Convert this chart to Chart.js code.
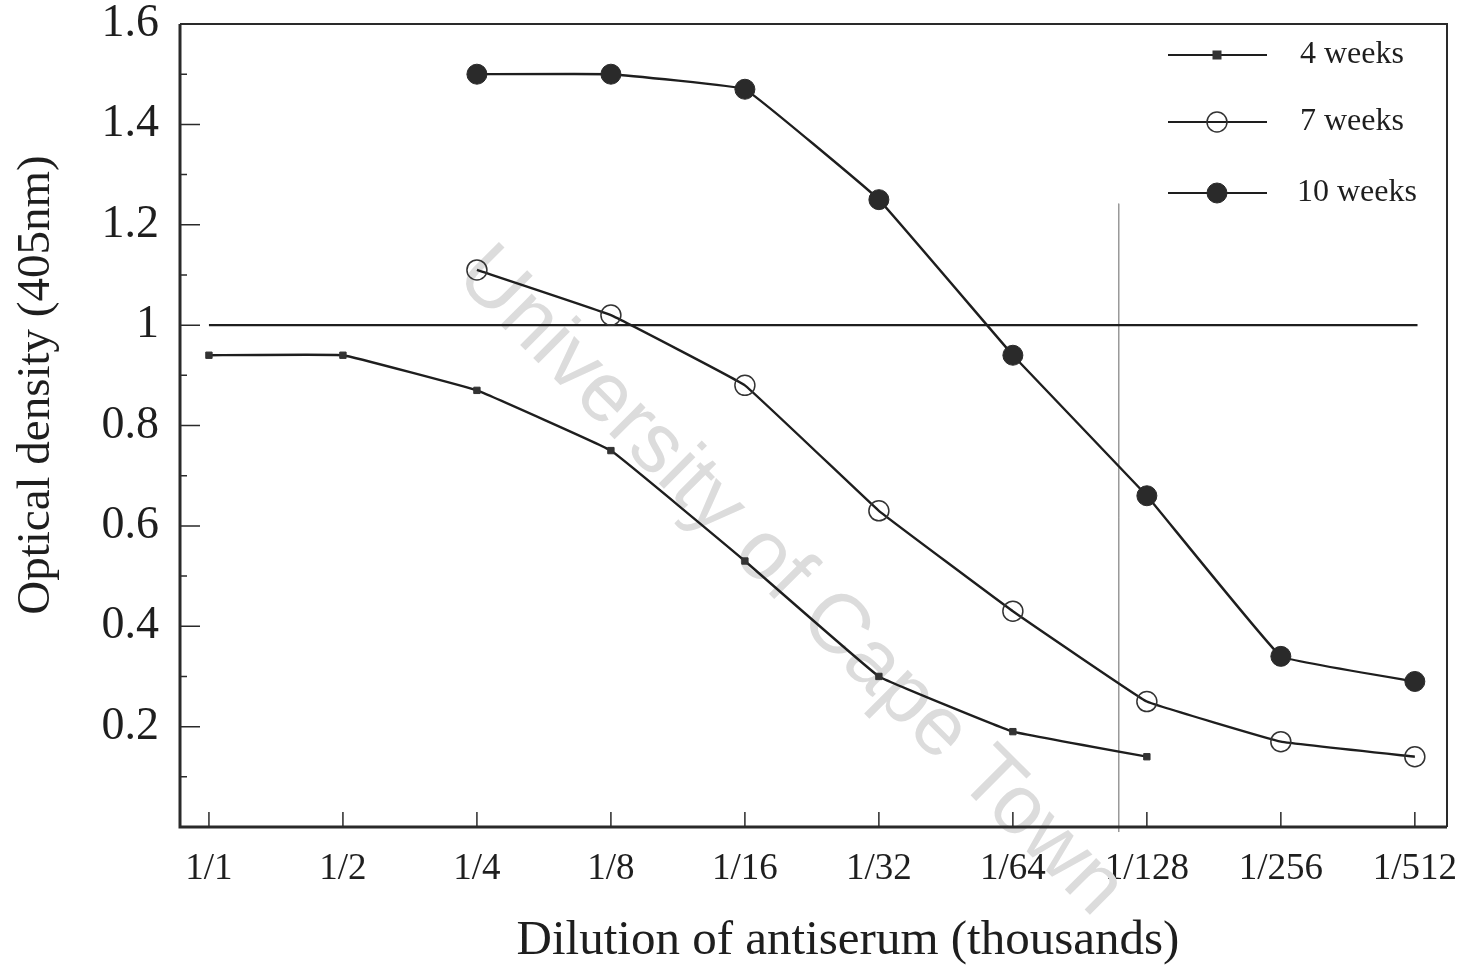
<!DOCTYPE html>
<html>
<head>
<meta charset="utf-8">
<script src="https://cdn.jsdelivr.net/npm/chart.js@4"></script>
<style>
  html, body { margin: 0; padding: 0; background: #fff; }
  canvas { display: block; }
</style>
</head>
<body>
<canvas id="odChart" width="1465" height="969"></canvas>
<script>
// dilution categories (thousands)
const dilutions = ["1/1", "1/2", "1/4", "1/8", "1/16", "1/32", "1/64", "1/128", "1/256", "1/512"];

// optical density readings, null where no reading
const weeks4 = [0.94, 0.94, 0.87, 0.75, 0.53, 0.30, 0.19, 0.14, null, null];
const weeks7 = [null, null, 1.11, 1.02, 0.88, 0.63, 0.43, 0.25, 0.17, 0.14];
const weeks10 = [null, null, 1.50, 1.50, 1.47, 1.25, 0.94, 0.66, 0.34, 0.29];

// cut-off line at OD 1.0 and the stray vertical mark
const cutoffX = [0, 9.02];
const cutoffY = [1, 1];
const markX = [6.79, 6.79];
const markY = [1.242, -0.01];

const yMajorTicks = [0.2, 0.4, 0.6, 0.8, 1.0, 1.2, 1.4];
const yMinorTicks = [0.1, 0.3, 0.5, 0.7, 0.9, 1.1, 1.3, 1.5];

const yTitle = "Optical density (405nm)";
const xTitle = "Dilution of antiserum (thousands)";

const serif = "'Liberation Serif', 'DejaVu Serif', serif";
const ink = "#1e1e1e";

function toPoints(values) {
    const pts = [];
    values.forEach((v, i) => {
        if (v !== null) pts.push({ x: i, y: v });
    });
    return pts;
}

function pairPoints(xs, ys) {
    return xs.map((x, i) => ({ x: x, y: ys[i] }));
}

const watermark = {
    id: "watermark",
    beforeDatasetsDraw(chart) {
        const ctx = chart.ctx;
        ctx.save();
        ctx.translate(790, 582);
        ctx.rotate(Math.PI / 4);
        ctx.font = "84px 'Liberation Sans', Arial, sans-serif";
        ctx.fillStyle = "#dcdcdc";
        ctx.textAlign = "center";
        ctx.textBaseline = "middle";
        ctx.fillText("University of Cape Town", 0, 0);
        ctx.restore();
    }
};

const frameAndTicks = {
    id: "frameAndTicks",
    afterDraw(chart) {
        const ctx = chart.ctx;
        const area = chart.chartArea;
        const xs = chart.scales.x;
        const ys = chart.scales.y;
        ctx.save();
        ctx.strokeStyle = "#2a2a2a";

        // frame
        ctx.lineWidth = 2;
        ctx.beginPath();
        ctx.moveTo(area.left, area.top);
        ctx.lineTo(area.right, area.top);
        ctx.lineTo(area.right, area.bottom);
        ctx.stroke();
        ctx.lineWidth = 3;
        ctx.beginPath();
        ctx.moveTo(area.left, area.top);
        ctx.lineTo(area.left, area.bottom);
        ctx.lineTo(area.right, area.bottom);
        ctx.stroke();

        // inward tick marks
        ctx.lineWidth = 1.5;
        ctx.beginPath();
        dilutions.forEach((d, i) => {
            const px = xs.getPixelForValue(i);
            ctx.moveTo(px, area.bottom);
            ctx.lineTo(px, area.bottom - 15);
        });
        yMajorTicks.forEach(v => {
            const py = ys.getPixelForValue(v);
            ctx.moveTo(area.left, py);
            ctx.lineTo(area.left + 20, py);
        });
        yMinorTicks.forEach(v => {
            const py = ys.getPixelForValue(v);
            ctx.moveTo(area.left, py);
            ctx.lineTo(area.left + 7, py);
        });
        ctx.stroke();

        // axis titles, both a bit off the plot centre like the original
        ctx.fillStyle = ink;
        ctx.textAlign = "center";
        ctx.textBaseline = "middle";
        ctx.font = "49px " + serif;
        ctx.fillText(xTitle, 848, 941);

        ctx.translate(37, 385);
        ctx.rotate(-Math.PI / 2);
        ctx.font = "47px " + serif;
        ctx.fillText(yTitle, 0, 0);
        ctx.restore();
    }
};

const customLegend = {
    id: "customLegend",
    afterDraw(chart) {
        const ctx = chart.ctx;
        const rows = [
            { label: "4 weeks", y: 55, ds: chart.data.datasets[0] },
            { label: "7 weeks", y: 122, ds: chart.data.datasets[1] },
            { label: "10 weeks", y: 193, ds: chart.data.datasets[2] }
        ];
        ctx.save();
        rows.forEach(row => {
            ctx.strokeStyle = ink;
            ctx.lineWidth = 2;
            ctx.beginPath();
            ctx.moveTo(1168, row.y);
            ctx.lineTo(1267, row.y);
            ctx.stroke();
            ctx.fillStyle = row.ds.pointBackgroundColor;
            ctx.strokeStyle = row.ds.pointBorderColor;
            ctx.lineWidth = row.ds.pointBorderWidth;
            const r = row.ds.pointRadius;
            if (row.ds.pointStyle === "rect") {
                ctx.fillRect(1217 - r, row.y - r, 2 * r, 2 * r);
            } else {
                ctx.beginPath();
                ctx.arc(1217, row.y, r, 0, Math.PI * 2);
                ctx.fill();
                ctx.stroke();
            }
            ctx.fillStyle = ink;
            ctx.font = "32px " + serif;
            ctx.textAlign = "left";
            ctx.textBaseline = "middle";
            ctx.fillText(row.label, row.label === "10 weeks" ? 1297 : 1300, row.y);
        });
        ctx.restore();
    }
};

const ctx = document.getElementById("odChart").getContext("2d");

new Chart(ctx, {
    type: "line",
    data: {
        datasets: [
            {
                label: "4 weeks",
                data: toPoints(weeks4),
                borderColor: ink,
                borderWidth: 2.4,
                tension: 0.06,
                pointStyle: "rect",
                pointRadius: 4.5,
                pointBackgroundColor: "#333",
                pointBorderColor: "#333",
                pointBorderWidth: 1
            },
            {
                label: "7 weeks",
                data: toPoints(weeks7),
                borderColor: ink,
                borderWidth: 2.4,
                tension: 0.06,
                pointStyle: "circle",
                pointRadius: 10,
                pointBackgroundColor: "rgba(255,255,255,0)",
                pointBorderColor: "#333",
                pointBorderWidth: 1.5
            },
            {
                label: "10 weeks",
                data: toPoints(weeks10),
                borderColor: ink,
                borderWidth: 2.4,
                tension: 0.06,
                pointStyle: "circle",
                pointRadius: 10,
                pointBackgroundColor: "#2a2a2a",
                pointBorderColor: "#2a2a2a",
                pointBorderWidth: 1
            },
            {
                label: "cutoff",
                data: pairPoints(cutoffX, cutoffY),
                borderColor: ink,
                borderWidth: 2.2,
                pointRadius: 0
            },
            {
                label: "mark",
                data: pairPoints(markX, markY),
                borderColor: "#9a9a9a",
                borderWidth: 1,
                pointRadius: 0,
                clip: false
            }
        ]
    },
    options: {
        responsive: false,
        animation: false,
        layout: {
            padding: { top: 24, right: 18, left: 0, bottom: 0 }
        },
        scales: {
            x: {
                type: "linear",
                min: -0.216,
                max: 9.24,
                grid: { display: false, drawTicks: false },
                border: { display: false },
                afterBuildTicks: scale => {
                    scale.ticks = dilutions.map((d, i) => ({ value: i }));
                },
                afterFit: scale => {
                    scale.height = 142;
                    scale.paddingLeft = 0;
                    scale.paddingRight = 0;
                },
                ticks: {
                    autoSkip: false,
                    maxRotation: 0,
                    padding: 20,
                    color: ink,
                    font: { family: serif, size: 37 },
                    callback: v => dilutions[v] ?? ""
                },
                title: { display: false }
            },
            y: {
                min: 0,
                max: 1.6,
                grid: { display: false, drawTicks: false },
                border: { display: false },
                afterFit: scale => {
                    scale.width = 180;
                    scale.paddingTop = 0;
                    scale.paddingBottom = 0;
                },
                ticks: {
                    stepSize: 0.2,
                    padding: 21,
                    color: ink,
                    font: { family: serif, size: 46 },
                    callback: v => (v < 0.05 ? "" : String(+v.toFixed(1)))
                },
                title: { display: false }
            }
        },
        plugins: {
            legend: { display: false },
            tooltip: { enabled: false }
        }
    },
    plugins: [watermark, frameAndTicks, customLegend]
});
</script>
</body>
</html>
